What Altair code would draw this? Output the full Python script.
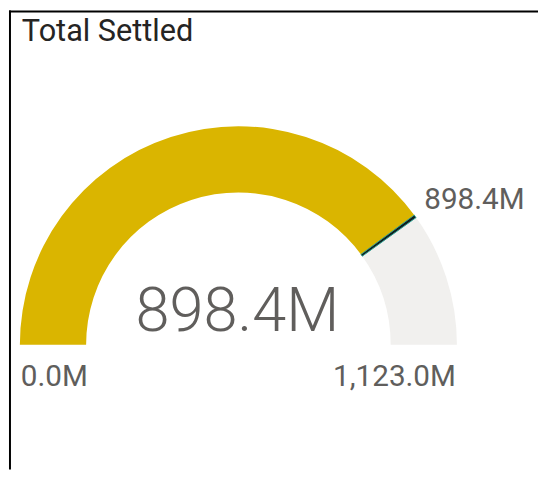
import math
import altair as alt
import pandas as pd

# ---- data ----
title_text = ["Total Settled"]
segment_names = ["Settled", "Remaining"]
segment_start = [0.0, 898.4]
segment_end = [898.4, 1123.0]
segment_colors = ["#DAB500", "#F1F0EE"]
gauge_min = [0.0]
gauge_max = [1123.0]
gauge_value = [898.4]
gauge_target = [898.4]
unit_suffix = "M"

W, H = 536, 464
CX, CY = 233, 338
R_OUT, R_IN = 221, 154
TEXT_GREY = "#605E5C"

theta_scale = alt.Scale(domain=[gauge_min[0], gauge_max[0]], range=[-math.pi / 2, math.pi / 2])

seg_df = pd.DataFrame({"name": segment_names, "start": segment_start, "end": segment_end})
target_df = pd.DataFrame({"target": gauge_target})
title_df = pd.DataFrame({"title": title_text})

fmt = "format(datum.v, ',.1f') + '" + unit_suffix + "'"

arcs = alt.Chart(seg_df).mark_arc(radius=R_OUT, radius2=R_IN).encode(
    theta=alt.Theta("start:Q", scale=theta_scale, stack=None),
    theta2="end:Q",
    color=alt.Color("name:N", scale=alt.Scale(domain=segment_names, range=segment_colors), legend=None),
    x=alt.value(CX),
    y=alt.value(CY),
)

target = alt.Chart(target_df).transform_calculate(
    t0="datum.target - 2.5", t1="datum.target + 2.5"
).mark_arc(radius=R_OUT, radius2=R_IN, fill="#101E20", stroke="#2B9D90", strokeWidth=1).encode(
    theta=alt.Theta("t0:Q", scale=theta_scale, stack=None),
    theta2="t1:Q",
    x=alt.value(CX),
    y=alt.value(CY),
)


def label(values, x, y, align, size, weight=400, color=TEXT_GREY):
    return alt.Chart(pd.DataFrame({"v": values})).transform_calculate(
        lbl=fmt
    ).mark_text(
        align=align, baseline="alphabetic", fontSize=size, font="Roboto",
        fontWeight=weight, color=color
    ).encode(text="lbl:N", x=alt.value(x), y=alt.value(y))


min_lbl = label(gauge_min, 13, 380, "left", 30)
max_lbl = label(gauge_max, 453, 380, "right", 30)
tgt_lbl = label(gauge_target, 421, 201, "left", 30)
callout = label(gauge_value, 232, 324, "center", 62, weight=300)

title = alt.Chart(title_df).mark_text(
    align="left", baseline="alphabetic", fontSize=31, font="Roboto", fontWeight=400, color="#252423"
).encode(text="title:N", x=alt.value(14), y=alt.value(31))

left_border = alt.Chart(title_df).mark_rule(color="black", strokeWidth=2).encode(
    x=alt.value(2), y=alt.value(0), y2=alt.value(H)
)
top_border = alt.Chart(title_df).mark_rule(color="black", strokeWidth=2).encode(
    x=alt.value(1), x2=alt.value(W), y=alt.value(1)
)

chart = alt.layer(
    arcs, target, min_lbl, max_lbl, tgt_lbl, callout, title, left_border, top_border
).properties(
    width=W, height=H, padding=0, autosize=alt.AutoSizeParams(type="none"), background="white"
).configure_view(stroke=None)

chart.save("out.html", embed_options={"renderer": "svg", "actions": False})
